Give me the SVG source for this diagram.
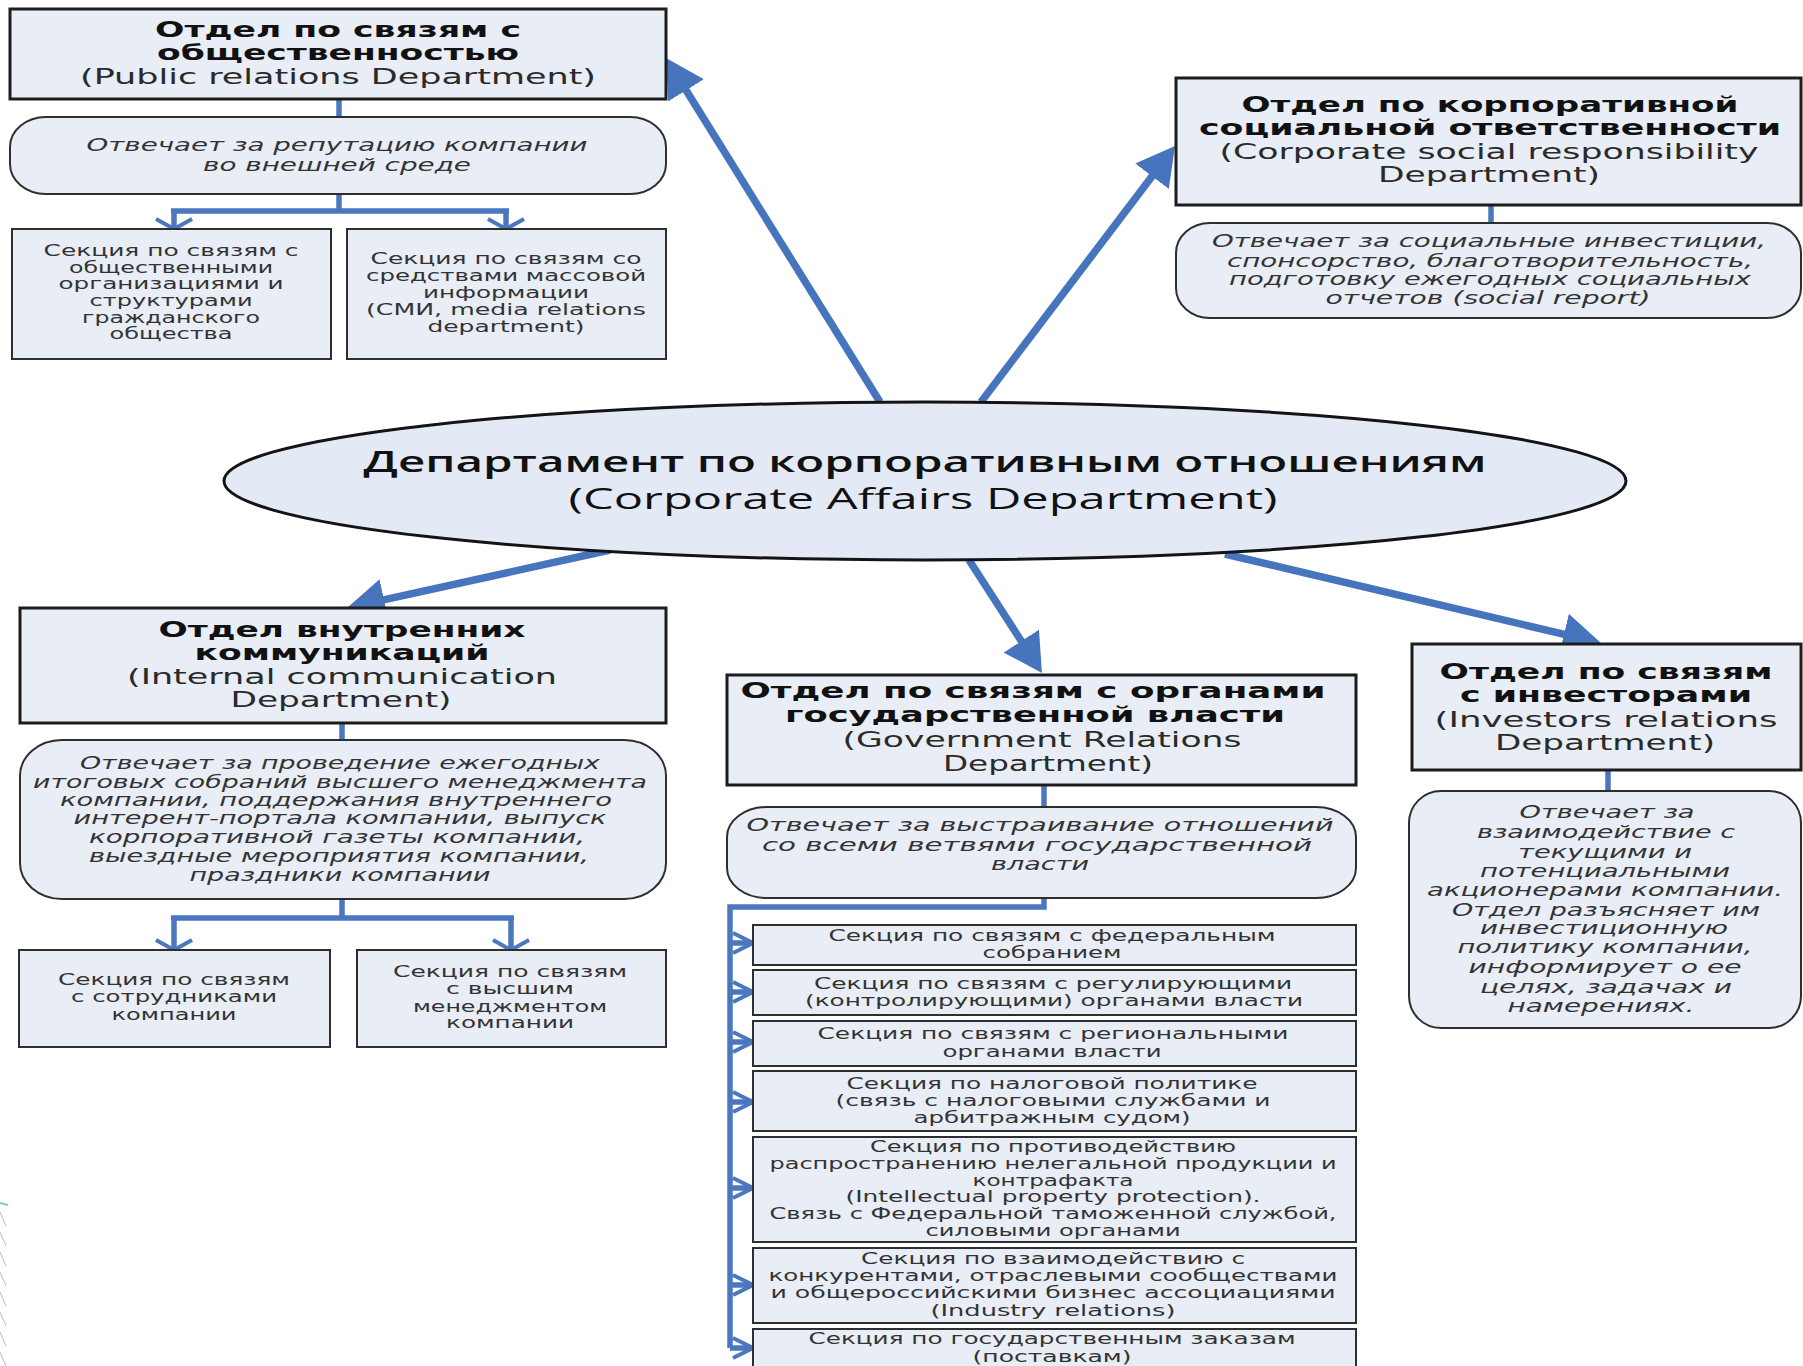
<svg xmlns="http://www.w3.org/2000/svg" width="1803" height="1366" viewBox="0 0 1803 1366">
<defs>
<style>
.box{fill:#e8edf6;stroke:#1c1c1c;stroke-width:3}
.desc{fill:#e8edf6;stroke:#2e2e2e;stroke-width:2}
.sub{fill:#e8edf6;stroke:#2e2e2e;stroke-width:2}
.ell{fill:#e4eaf5;stroke:#141414;stroke-width:3}
text{font-family:"DejaVu Sans",Verdana,sans-serif;text-anchor:middle}
.hb{font-weight:bold;font-size:21.5px;fill:#111}
.he{font-size:21px;fill:#2a2a2a}
.d{font-style:italic;font-size:18px;fill:#333}
.s{font-size:16px;fill:#333}
.c1{font-family:"Open Sans","DejaVu Sans",sans-serif;font-weight:600;font-size:29px;fill:#111}
.c2{font-family:"Open Sans","DejaVu Sans",sans-serif;font-size:29px;fill:#111}
.big{fill:none;stroke:#4674bd;stroke-width:7.5}
.con{fill:none;stroke:#4a77be;stroke-width:5.5}
.deco{stroke:#bdbdbd;stroke-width:1}
</style>
<marker id="ah" markerUnits="userSpaceOnUse" viewBox="0 0 38 42" markerWidth="38" markerHeight="42" refX="18" refY="21" orient="auto">
<path d="M0,0 L38,21 L0,42 z" fill="#4674bd"/>
</marker>
<marker id="chevV" markerUnits="userSpaceOnUse" viewBox="-3 -3 16 42" markerWidth="16" markerHeight="42" refX="10" refY="18" orient="auto">
<path d="M0,0 L10,18 L0,36" fill="none" stroke="#4a77be" stroke-width="4"/>
</marker>
<marker id="chevH" markerUnits="userSpaceOnUse" viewBox="-3 -3 26 26" markerWidth="26" markerHeight="26" refX="20" refY="10" orient="auto">
<path d="M0,0 L20,10 L0,20" fill="none" stroke="#4a77be" stroke-width="4"/>
</marker>
</defs>
<rect width="1803" height="1366" fill="#ffffff"/>

<g id="decoration">
<path d="M0,1203 L8,1205" stroke="#8cc4dc" stroke-width="2"/>
<path class="deco" d="M0,1212 L6,1226 M0,1232 L6,1246 M0,1252 L6,1266 M0,1272 L6,1286 M0,1292 L6,1306 M0,1312 L6,1326 M0,1332 L6,1346 M0,1352 L6,1366"/>
</g>

<g id="connectors">
<path class="big" d="M880,402 L676.6,75" marker-end="url(#ah)"/>
<path class="big" d="M981,402 L1162.9,161.9" marker-end="url(#ah)"/>
<path class="big" d="M610,550 L366.5,603.7" marker-end="url(#ah)"/>
<path class="big" d="M969,560 L1031.1,656.2" marker-end="url(#ah)"/>
<path class="big" d="M1225,554 L1581.5,638.4" marker-end="url(#ah)"/>

<path class="con" d="M339,99 V117"/>
<path class="con" d="M339,194 V211 M171,211 H509"/>
<path class="con" d="M174,211 V229" marker-end="url(#chevV)"/>
<path class="con" d="M506,211 V229" marker-end="url(#chevV)"/>

<path class="con" d="M1491,205 V223"/>

<path class="con" d="M342,723 V740"/>
<path class="con" d="M342,899 V918 M171,918 H514"/>
<path class="con" d="M174,918 V950" marker-end="url(#chevV)"/>
<path class="con" d="M511,918 V950" marker-end="url(#chevV)"/>

<path class="con" d="M1044,785 V807"/>
<path class="con" d="M1044,898 V907 H730 V1348"/>
<path class="con" d="M730,943 H753" marker-end="url(#chevH)"/>
<path class="con" d="M730,992 H753" marker-end="url(#chevH)"/>
<path class="con" d="M730,1042 H753" marker-end="url(#chevH)"/>
<path class="con" d="M730,1102 H753" marker-end="url(#chevH)"/>
<path class="con" d="M730,1188 H753" marker-end="url(#chevH)"/>
<path class="con" d="M730,1285 H753" marker-end="url(#chevH)"/>
<path class="con" d="M730,1348 H753" marker-end="url(#chevH)"/>

<path class="con" d="M1608,770 V791"/>
</g>

<g id="center">
<ellipse class="ell" cx="925" cy="481" rx="701" ry="79"/>
<text class="c1" x="925" y="472" textLength="1123" lengthAdjust="spacingAndGlyphs">Департамент по корпоративным отношениям</text>
<text class="c2" x="923" y="509" textLength="709" lengthAdjust="spacingAndGlyphs">(Corporate Affairs Department)</text>
</g>

<g id="pr">
<rect class="box" x="10" y="9" width="656" height="90"/>
<text class="hb" x="338" y="37" textLength="366" lengthAdjust="spacingAndGlyphs">Отдел по связям с</text>
<text class="hb" x="338" y="60" textLength="362" lengthAdjust="spacingAndGlyphs">общественностью</text>
<text class="he" x="338" y="84" textLength="516" lengthAdjust="spacingAndGlyphs">(Public relations Department)</text>
</g>
<g id="pr-desc">
<rect class="desc" x="10" y="117" width="656" height="77" rx="36" ry="30"/>
<text class="d" x="337" y="151" textLength="501" lengthAdjust="spacingAndGlyphs">Отвечает за репутацию компании</text>
<text class="d" x="337" y="171" textLength="268" lengthAdjust="spacingAndGlyphs">во внешней среде</text>
</g>
<g id="pr-sub1">
<rect class="sub" x="12" y="229" width="319" height="130"/>
<text class="s" x="171" y="256" textLength="255" lengthAdjust="spacingAndGlyphs">Секция по связям с</text>
<text class="s" x="171" y="273" textLength="204" lengthAdjust="spacingAndGlyphs">общественными</text>
<text class="s" x="171" y="289" textLength="225" lengthAdjust="spacingAndGlyphs">организациями и</text>
<text class="s" x="171" y="306" textLength="163" lengthAdjust="spacingAndGlyphs">структурами</text>
<text class="s" x="171" y="323" textLength="178" lengthAdjust="spacingAndGlyphs">гражданского</text>
<text class="s" x="171" y="339" textLength="123" lengthAdjust="spacingAndGlyphs">общества</text>
</g>
<g id="pr-sub2">
<rect class="sub" x="347" y="229" width="319" height="130"/>
<text class="s" x="506" y="264" textLength="271" lengthAdjust="spacingAndGlyphs">Секция по связям со</text>
<text class="s" x="506" y="281" textLength="280" lengthAdjust="spacingAndGlyphs">средствами массовой</text>
<text class="s" x="506" y="298" textLength="166" lengthAdjust="spacingAndGlyphs">информации</text>
<text class="s" x="506" y="315" textLength="280" lengthAdjust="spacingAndGlyphs">(СМИ, media relations</text>
<text class="s" x="506" y="332" textLength="157" lengthAdjust="spacingAndGlyphs">department)</text>
</g>

<g id="csr">
<rect class="box" x="1176" y="78" width="625" height="127"/>
<text class="hb" x="1490" y="112" textLength="497" lengthAdjust="spacingAndGlyphs">Отдел по корпоративной</text>
<text class="hb" x="1490" y="135" textLength="582" lengthAdjust="spacingAndGlyphs">социальной ответственности</text>
<text class="he" x="1489" y="159" textLength="539" lengthAdjust="spacingAndGlyphs">(Corporate social responsibility</text>
<text class="he" x="1489" y="182" textLength="222" lengthAdjust="spacingAndGlyphs">Department)</text>
</g>
<g id="csr-desc">
<rect class="desc" x="1176" y="223" width="625" height="95" rx="34" ry="30"/>
<text class="d" x="1489" y="247" textLength="554" lengthAdjust="spacingAndGlyphs">Отвечает за социальные инвестиции,</text>
<text class="d" x="1490" y="267" textLength="526" lengthAdjust="spacingAndGlyphs">спонсорство, благотворительность,</text>
<text class="d" x="1490" y="285" textLength="522" lengthAdjust="spacingAndGlyphs">подготовку ежегодных социальных</text>
<text class="d" x="1488" y="304" textLength="325" lengthAdjust="spacingAndGlyphs">отчетов (social report)</text>
</g>

<g id="internal">
<rect class="box" x="20" y="608" width="646" height="115"/>
<text class="hb" x="342" y="637" textLength="367" lengthAdjust="spacingAndGlyphs">Отдел внутренних</text>
<text class="hb" x="342" y="660" textLength="295" lengthAdjust="spacingAndGlyphs">коммуникаций</text>
<text class="he" x="342" y="684" textLength="430" lengthAdjust="spacingAndGlyphs">(Internal communication</text>
<text class="he" x="341" y="707" textLength="221" lengthAdjust="spacingAndGlyphs">Department)</text>
</g>
<g id="internal-desc">
<rect class="desc" x="20" y="740" width="646" height="159" rx="42" ry="36"/>
<text class="d" x="340" y="769" textLength="520" lengthAdjust="spacingAndGlyphs">Отвечает за проведение ежегодных</text>
<text class="d" x="340" y="788" textLength="614" lengthAdjust="spacingAndGlyphs">итоговых собраний высшего менеджмента</text>
<text class="d" x="336" y="806" textLength="552" lengthAdjust="spacingAndGlyphs">компании, поддержания внутреннего</text>
<text class="d" x="340" y="824" textLength="533" lengthAdjust="spacingAndGlyphs">интерент-портала компании, выпуск</text>
<text class="d" x="337" y="843" textLength="496" lengthAdjust="spacingAndGlyphs">корпоративной газеты компании,</text>
<text class="d" x="339" y="862" textLength="500" lengthAdjust="spacingAndGlyphs">выездные мероприятия компании,</text>
<text class="d" x="340" y="881" textLength="301" lengthAdjust="spacingAndGlyphs">праздники компании</text>
</g>
<g id="internal-sub1">
<rect class="sub" x="19" y="950" width="311" height="97"/>
<text class="s" x="174" y="985" textLength="232" lengthAdjust="spacingAndGlyphs">Секция по связям</text>
<text class="s" x="174" y="1002" textLength="206" lengthAdjust="spacingAndGlyphs">с сотрудниками</text>
<text class="s" x="174" y="1020" textLength="125" lengthAdjust="spacingAndGlyphs">компании</text>
</g>
<g id="internal-sub2">
<rect class="sub" x="357" y="950" width="309" height="97"/>
<text class="s" x="510" y="977" textLength="234" lengthAdjust="spacingAndGlyphs">Секция по связям</text>
<text class="s" x="510" y="994" textLength="128" lengthAdjust="spacingAndGlyphs">с высшим</text>
<text class="s" x="510" y="1012" textLength="194" lengthAdjust="spacingAndGlyphs">менеджментом</text>
<text class="s" x="510" y="1028" textLength="128" lengthAdjust="spacingAndGlyphs">компании</text>
</g>

<g id="gov">
<rect class="box" x="727" y="675" width="629" height="110"/>
<text class="hb" x="1033" y="698" textLength="585" lengthAdjust="spacingAndGlyphs">Отдел по связям с органами</text>
<text class="hb" x="1035" y="722" textLength="500" lengthAdjust="spacingAndGlyphs">государственной власти</text>
<text class="he" x="1042" y="747" textLength="399" lengthAdjust="spacingAndGlyphs">(Government Relations</text>
<text class="he" x="1048" y="771" textLength="210" lengthAdjust="spacingAndGlyphs">Department)</text>
</g>
<g id="gov-desc">
<rect class="desc" x="727" y="807" width="629" height="91" rx="40" ry="30"/>
<text class="d" x="1040" y="831" textLength="587" lengthAdjust="spacingAndGlyphs">Отвечает за выстраивание отношений</text>
<text class="d" x="1037" y="851" textLength="550" lengthAdjust="spacingAndGlyphs">со всеми ветвями государственной</text>
<text class="d" x="1040" y="870" textLength="98" lengthAdjust="spacingAndGlyphs">власти</text>
</g>
<g id="gov-sub1">
<rect class="sub" x="753" y="925" width="603" height="40"/>
<text class="s" x="1052" y="941" textLength="447" lengthAdjust="spacingAndGlyphs">Секция по связям с федеральным</text>
<text class="s" x="1052" y="958" textLength="139" lengthAdjust="spacingAndGlyphs">собранием</text>
</g>
<g id="gov-sub2">
<rect class="sub" x="753" y="970" width="603" height="45"/>
<text class="s" x="1053" y="989" textLength="478" lengthAdjust="spacingAndGlyphs">Секция по связям с регулирующими</text>
<text class="s" x="1054" y="1006" textLength="498" lengthAdjust="spacingAndGlyphs">(контролирующими) органами власти</text>
</g>
<g id="gov-sub3">
<rect class="sub" x="753" y="1021" width="603" height="45"/>
<text class="s" x="1053" y="1039" textLength="471" lengthAdjust="spacingAndGlyphs">Секция по связям с региональными</text>
<text class="s" x="1052" y="1057" textLength="219" lengthAdjust="spacingAndGlyphs">органами власти</text>
</g>
<g id="gov-sub4">
<rect class="sub" x="753" y="1071" width="603" height="60"/>
<text class="s" x="1052" y="1089" textLength="411" lengthAdjust="spacingAndGlyphs">Секция по налоговой политике</text>
<text class="s" x="1053" y="1106" textLength="435" lengthAdjust="spacingAndGlyphs">(связь с налоговыми службами и</text>
<text class="s" x="1052" y="1123" textLength="277" lengthAdjust="spacingAndGlyphs">арбитражным судом)</text>
</g>
<g id="gov-sub5">
<rect class="sub" x="753" y="1137" width="603" height="105"/>
<text class="s" x="1053" y="1152" textLength="366" lengthAdjust="spacingAndGlyphs">Секция по противодействию</text>
<text class="s" x="1053" y="1169" textLength="567" lengthAdjust="spacingAndGlyphs">распространению нелегальной продукции и</text>
<text class="s" x="1053" y="1186" textLength="161" lengthAdjust="spacingAndGlyphs">контрафакта</text>
<text class="s" x="1053" y="1202" textLength="415" lengthAdjust="spacingAndGlyphs">(Intellectual property protection).</text>
<text class="s" x="1053" y="1219" textLength="567" lengthAdjust="spacingAndGlyphs">Связь с Федеральной таможенной службой,</text>
<text class="s" x="1053" y="1236" textLength="255" lengthAdjust="spacingAndGlyphs">силовыми органами</text>
</g>
<g id="gov-sub6">
<rect class="sub" x="753" y="1248" width="603" height="75"/>
<text class="s" x="1053" y="1264" textLength="384" lengthAdjust="spacingAndGlyphs">Секция по взаимодействию с</text>
<text class="s" x="1053" y="1281" textLength="569" lengthAdjust="spacingAndGlyphs">конкурентами, отраслевыми сообществами</text>
<text class="s" x="1053" y="1298" textLength="565" lengthAdjust="spacingAndGlyphs">и общероссийскими бизнес ассоциациями</text>
<text class="s" x="1053" y="1316" textLength="245" lengthAdjust="spacingAndGlyphs">(Industry relations)</text>
</g>
<g id="gov-sub7">
<rect class="sub" x="753" y="1329" width="603" height="50"/>
<text class="s" x="1052" y="1344" textLength="487" lengthAdjust="spacingAndGlyphs">Секция по государственным заказам</text>
<text class="s" x="1052" y="1362" textLength="159" lengthAdjust="spacingAndGlyphs">(поставкам)</text>
</g>

<g id="investors">
<rect class="box" x="1412" y="644" width="389" height="126"/>
<text class="hb" x="1606" y="679" textLength="333" lengthAdjust="spacingAndGlyphs">Отдел по связям</text>
<text class="hb" x="1606" y="702" textLength="292" lengthAdjust="spacingAndGlyphs">с инвесторами</text>
<text class="he" x="1606" y="727" textLength="343" lengthAdjust="spacingAndGlyphs">(Investors relations</text>
<text class="he" x="1605" y="750" textLength="220" lengthAdjust="spacingAndGlyphs">Department)</text>
</g>
<g id="investors-desc">
<rect class="desc" x="1409" y="791" width="392" height="237" rx="32" ry="32"/>
<text class="d" x="1607" y="818" textLength="175" lengthAdjust="spacingAndGlyphs">Отвечает за</text>
<text class="d" x="1606" y="838" textLength="258" lengthAdjust="spacingAndGlyphs">взаимодействие с</text>
<text class="d" x="1605" y="858" textLength="174" lengthAdjust="spacingAndGlyphs">текущими и</text>
<text class="d" x="1605" y="877" textLength="250" lengthAdjust="spacingAndGlyphs">потенциальными</text>
<text class="d" x="1605" y="896" textLength="356" lengthAdjust="spacingAndGlyphs">акционерами компании.</text>
<text class="d" x="1606" y="916" textLength="308" lengthAdjust="spacingAndGlyphs">Отдел разъясняет им</text>
<text class="d" x="1604" y="934" textLength="248" lengthAdjust="spacingAndGlyphs">инвестиционную</text>
<text class="d" x="1605" y="953" textLength="295" lengthAdjust="spacingAndGlyphs">политику компании,</text>
<text class="d" x="1605" y="973" textLength="273" lengthAdjust="spacingAndGlyphs">информирует о ее</text>
<text class="d" x="1606" y="993" textLength="252" lengthAdjust="spacingAndGlyphs">целях, задачах и</text>
<text class="d" x="1601" y="1012" textLength="187" lengthAdjust="spacingAndGlyphs">намерениях.</text>
</g>
</svg>
